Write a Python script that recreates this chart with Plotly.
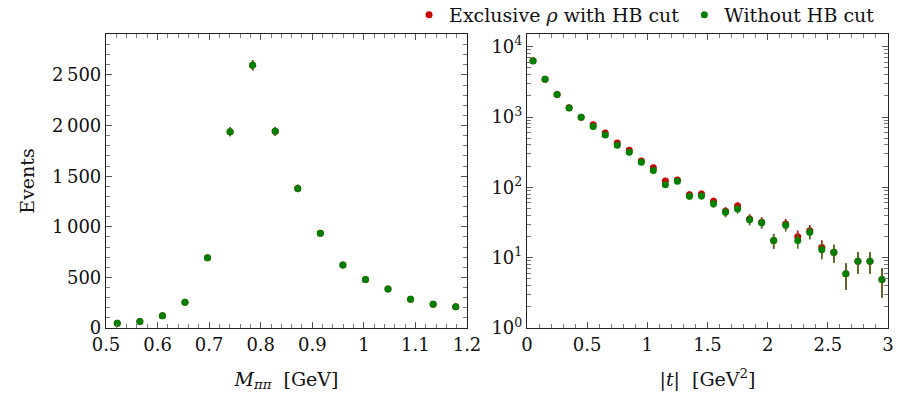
import plotly.graph_objects as go

# ---- Left panel: M_pipi distribution ----
m_centers = [0.521875, 0.565625, 0.609375, 0.653125, 0.696875, 0.740625, 0.784375, 0.828125,
             0.871875, 0.915625, 0.959375, 1.003125, 1.046875, 1.090625, 1.134375, 1.178125]
m_red = [46, 63, 122, 254, 693, 1939, 2596, 1943, 1379, 937, 623, 478, 386, 284, 234, 211]
m_red_err = [6.8, 7.9, 11, 16, 26, 44, 51, 44, 37, 31, 25, 22, 20, 17, 15, 15]
m_green = [46, 63, 122, 254, 693, 1939, 2596, 1943, 1379, 937, 623, 478, 386, 284, 234, 211]
m_green_err = [6.8, 7.9, 11, 16, 26, 44, 51, 44, 37, 31, 25, 22, 20, 17, 15, 15]

# ---- Right panel: |t| distribution ----
t_centers = [0.05, 0.15, 0.25, 0.35, 0.45, 0.55, 0.65, 0.75, 0.85, 0.95,
             1.05, 1.15, 1.25, 1.35, 1.45, 1.55, 1.65, 1.75, 1.85, 1.95,
             2.05, 2.15, 2.25, 2.35, 2.45, 2.55, 2.65, 2.75, 2.85, 2.95]
t_red = [6300, 3450, 2090, 1350, 995, 778, 592, 427, 336, 237,
         190, 123, 127, 78.7, 80.4, 63.2, 45.6, 54.3, 35.5, 32.0,
         17.6, 30.1, 19.9, 24.2, 14.0, 11.9, 5.9, 8.9, 8.9, 4.9]
t_red_err = [79, 59, 46, 37, 32, 28, 24, 21, 18, 15,
             14, 11, 11, 8.9, 9.0, 8.0, 6.8, 7.4, 6.0, 5.7,
             4.2, 5.5, 4.5, 4.9, 3.7, 3.4, 2.4, 3.0, 3.0, 2.2]
t_green = [6250, 3430, 2080, 1340, 990, 730, 555, 396, 315, 227,
           174, 109, 122, 74.5, 75.3, 58.6, 44.1, 49.2, 34.7, 31.4,
           17.6, 28.8, 17.6, 22.9, 13.0, 11.9, 5.9, 8.9, 8.9, 4.9]
t_green_err = [79, 59, 46, 37, 31, 27, 24, 20, 18, 15,
               13, 10.4, 11, 8.6, 8.7, 7.7, 6.6, 7.0, 5.9, 5.6,
               4.2, 5.4, 4.2, 4.8, 3.6, 3.4, 2.4, 3.0, 3.0, 2.2]

legend_names = ["Exclusive <i>ρ</i> with HB cut", "Without HB cut"]
RED = "#cc0000"
GREEN = "#008000"
GREEN_BAR = "#4a7020"
FONT = "DejaVu Serif"
FS_TICK = 18
FS_TEXT = 19

fig = go.Figure()

def add(x, y, err, color, barcolor, name, xa, ya, show):
    fig.add_trace(go.Scatter(
        x=x, y=y, mode="markers", name=name, showlegend=show, legendgroup=name,
        marker=dict(color=color, size=7, line=dict(width=0)),
        error_y=dict(type="data", array=err, visible=True, color=barcolor, thickness=1.6, width=0),
        xaxis=xa, yaxis=ya))

add(m_centers, m_red, m_red_err, RED, RED, legend_names[0], "x", "y", False)
add(m_centers, m_green, m_green_err, GREEN, GREEN_BAR, legend_names[1], "x", "y", False)
add(t_centers, t_red, t_red_err, RED, RED, legend_names[0], "x2", "y2", True)
add(t_centers, t_green, t_green_err, GREEN, GREEN_BAR, legend_names[1], "x2", "y2", True)

axis_common = dict(showline=True, linecolor="#222", linewidth=1.2, mirror="allticks",
                   ticks="inside", ticklen=6, tickcolor="#555", tickwidth=1,
                   showgrid=False, zeroline=False, automargin=False,
                   tickfont=dict(family=FONT, size=FS_TICK, color="#111"))

fig.update_layout(
    width=898, height=403,
    margin=dict(l=0, r=0, t=34, b=75, autoexpand=False),
    paper_bgcolor="white", plot_bgcolor="white",
    font=dict(family=FONT, size=FS_TEXT, color="#111"),
    xaxis=dict(domain=[106/898, 467/898], range=[0.5, 1.2], dtick=0.1, tick0=0.5,
               minor=dict(dtick=0.02, ticks="inside", ticklen=3.5, tickcolor="#777", showgrid=False),
               title=dict(text="<i>M</i><sub><i>ππ</i></sub>  [GeV]", font=dict(family=FONT, size=FS_TEXT), standoff=18),
               **axis_common),
    yaxis=dict(domain=[0, 1], range=[0, 2905],
               tickvals=[0, 500, 1000, 1500, 2000, 2500],
               ticktext=["0", "500", "1\u2009000", "1\u2009500", "2\u2009000", "2\u2009500"],
               minor=dict(dtick=100, ticks="inside", ticklen=3.5, tickcolor="#777", showgrid=False),
               title=dict(text="Events", font=dict(family=FONT, size=FS_TEXT), standoff=12),
               **axis_common),
    xaxis2=dict(domain=[527/898, 888/898], range=[0, 3],
                tickvals=[0, 0.5, 1, 1.5, 2, 2.5, 3], ticktext=["0", "0.5", "1", "1.5", "2", "2.5", "3"],
                minor=dict(dtick=0.1, tick0=0, ticks="inside", ticklen=3.5, tickcolor="#777", showgrid=False),
                title=dict(text="|<i>t</i>|  [GeV<sup>2</sup>]", font=dict(family=FONT, size=FS_TEXT), standoff=18),
                anchor="y2", **axis_common),
    yaxis2=dict(domain=[0, 1], type="log", range=[0, 4.18],
                tickvals=[1, 10, 100, 1000, 10000],
                ticktext=["10<sup>0</sup>", "10<sup>1</sup>", "10<sup>2</sup>", "10<sup>3</sup>", "10<sup>4</sup>"],
                minor=dict(dtick="D1", ticks="inside", ticklen=3.5, tickcolor="#777", showgrid=False),
                anchor="x2", **axis_common),
    legend=dict(orientation="h", x=0.98, xanchor="right", xref="container",
                y=1.0 - 15/403, yanchor="middle", yref="container",
                font=dict(family=FONT, size=FS_TEXT), bgcolor="rgba(0,0,0,0)",
                itemsizing="trace", tracegroupgap=0, itemwidth=30),
)

fig.write_html("out.html")
